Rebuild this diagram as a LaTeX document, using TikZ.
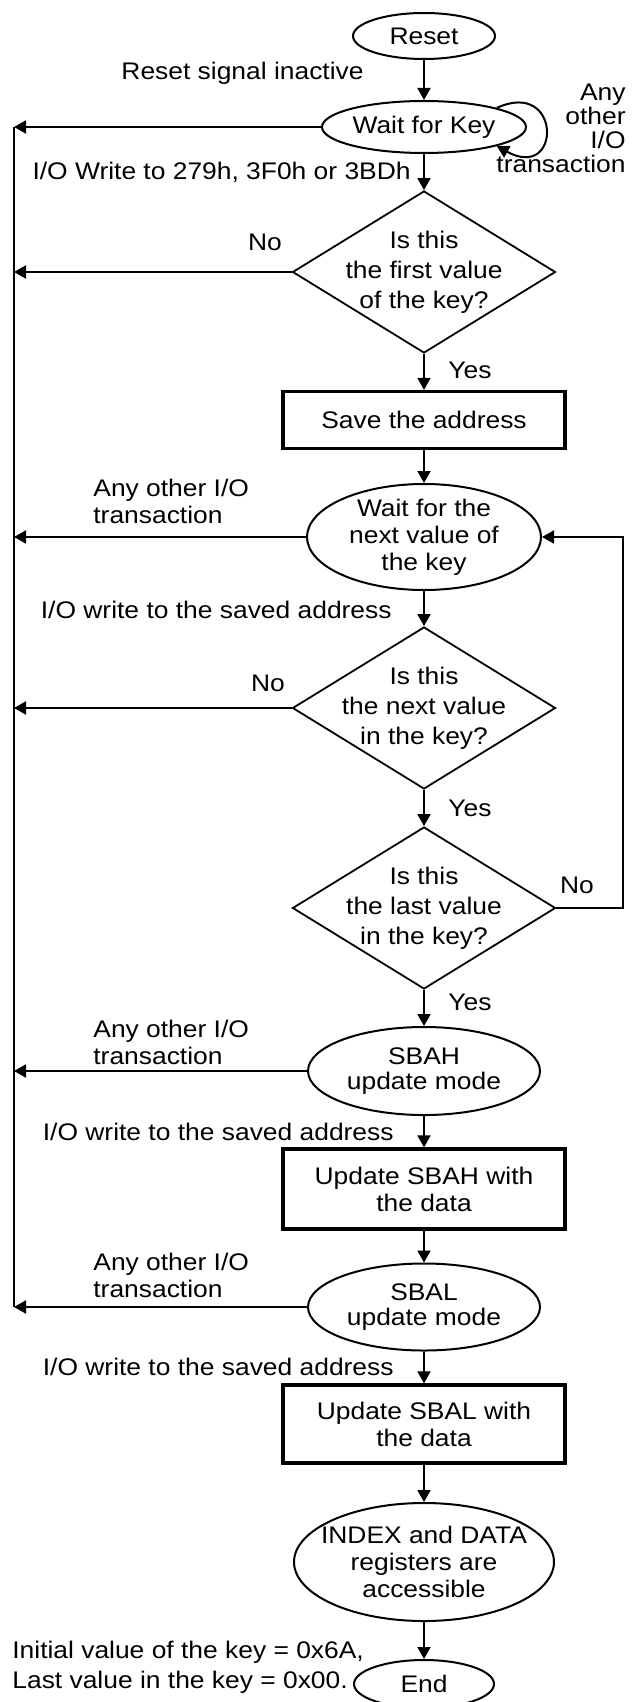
\documentclass[tikz,border=0pt]{standalone}
\usepackage{fontspec}
\setmainfont{Liberation Sans}[FakeStretch=1.1]
\usetikzlibrary{arrows.meta, shapes.geometric}
\newcommand{\flowfont}[1]{\fontsize{12}{#1}\selectfont\lineskiplimit=-20pt}
\tikzset{
>={Triangle[length=6pt, width=6.5pt]}, % filled heads on every connector
flow/.style={->, line width=1pt}, % connectors between the steps
rail/.style={line width=1pt}, % the long return line on the left
oval/.style={ellipse, draw, line width=1pt, inner sep=0pt}, % waiting states
decision/.style={diamond, draw, line width=0.9pt, inner sep=0pt, minimum width=131.5pt, minimum height=81pt}, % tests
action/.style={rectangle, draw, line width=1.6pt, minimum width=141pt, align=center, inner sep=0pt, font=\flowfont{13.5pt}}, % boxes
intext/.style={align=center, inner sep=0pt, font=\flowfont{13.5pt}}, % text inside the ovals
dtext/.style={align=center, inner sep=0pt, font=\flowfont{15pt}}, % text inside the diamonds
note/.style={inner sep=0pt, font=\flowfont{13.5pt}}, % texts along the connectors
}

\begin{document}
\begin{tikzpicture}[x=0.5pt, y=-0.5pt]
\useasboundingbox (0,0) rectangle (634,1702);
% steps down the middle
\node[oval, minimum width=71pt, minimum height=23pt, label={[intext]center:Reset}] (reset) at (424,36) {};
\node[oval, minimum width=102pt, minimum height=26pt, label={[intext]center:Wait for Key}] (wkey) at (424,127) {};
\node[decision, label={[dtext]center:Is this\\the first value\\of the key?}] (first) at (424,272) {};
\node[action, minimum height=28.5pt] (save) at (424,420) {Save the address};
\node[oval, minimum width=117pt, minimum height=53pt, label={[intext]center:Wait for the\\next value of\\the key}] (wnext) at (424,537) {};
\node[decision, label={[dtext]center:Is this\\the next value\\in the key?}] (next) at (424,708) {};
\node[decision, label={[dtext]center:Is this\\the last value\\in the key?}] (last) at (424,908) {};
\node[oval, minimum width=116pt, minimum height=44pt, label={[intext, font=\flowfont{12.8pt}]center:SBAH\\update mode}] (sbah) at (424,1071) {};
\node[action, minimum height=40pt] (updh) at (424,1189) {Update SBAH with\\the data};
\node[oval, minimum width=116pt, minimum height=43.5pt, label={[intext, font=\flowfont{12.8pt}]center:SBAL\\update mode}] (sbal) at (424,1307) {};
\node[action, minimum height=39pt] (updl) at (424,1424) {Update SBAL with\\the data};
\node[oval, minimum width=130pt, minimum height=59pt, label={[intext]center:INDEX and DATA\\registers are\\accessible}] (access) at (424,1562) {};
\node[oval, minimum width=70pt, minimum height=24pt, label={[intext]center:End}] (end) at (424,1684) {};
% x positions of the two return lines
\coordinate (rail) at (14,0);
\coordinate (loop) at (623,0);

% main flow
\draw[flow] (reset) -- (wkey);
\draw[flow] (wkey) -- (first);
\draw[flow] (first) -- (save);
\draw[flow] (save) -- (wnext);
\draw[flow] (wnext) -- (next);
\draw[flow] (next) -- (last);
\draw[flow] (last) -- (sbah);
\draw[flow] (sbah) -- (updh);
\draw[flow] (updh) -- (sbal);
\draw[flow] (sbal) -- (updl);
\draw[flow] (updl) -- (access);
\draw[flow] (access) -- (end);

% back to the start
\draw[rail] (wkey -| rail) -- (sbal -| rail);
\draw[flow] (wkey) -- (wkey -| rail);
\draw[flow] (first.west) -- (first.west -| rail);
\draw[flow] (wnext) -- (wnext -| rail);
\draw[flow] (next.west) -- (next.west -| rail);
\draw[flow] (sbah) -- (sbah -| rail);
\draw[flow] (sbal) -- (sbal -| rail);
\draw[flow] (last.east) -- (last.east -| loop) |- (wnext.east);
\draw[flow] (wkey.north east) .. controls (562,78) and (562,182) .. (wkey.south east);

% texts on the connectors
\node[note, anchor=east] (rsig) at (364,73) {Reset signal inactive};
\node[note, anchor=east, align=right, font=\flowfont{12pt}] (other0) at (626,128) {Any\\other\\I/O\\transaction};
\node[note, anchor=east] (w279) at (411,172) {I/O Write to 279h, 3F0h or 3BDh};
\node[note] (no1) at (265,242) {No};
\node[note] (yes1) at (470,370) {Yes};
\node[note, anchor=west, align=left] (other1) at (93,501) {Any other I/O\\transaction};
\node[note, anchor=east] (wsave1) at (392,610) {I/O write to the saved address};
\node[note] (no2) at (268,683) {No};
\node[note] (yes2) at (470,808) {Yes};
\node[note] (no3) at (577,885) {No};
\node[note] (yes3) at (470,1002) {Yes};
\node[note, anchor=west, align=left] (other2) at (93,1042) {Any other I/O\\transaction};
\node[note, anchor=east] (wsave2) at (394,1132) {I/O write to the saved address};
\node[note, anchor=west, align=left] (other3) at (93,1275) {Any other I/O\\transaction};
\node[note, anchor=east] (wsave3) at (394,1367) {I/O write to the saved address};
\node[note, anchor=west, align=left, font=\flowfont{15pt}] (keynote) at (12,1667) {Initial value of the key = 0x6A,\\Last value in the key = 0x00.};
\end{tikzpicture}
\end{document}
